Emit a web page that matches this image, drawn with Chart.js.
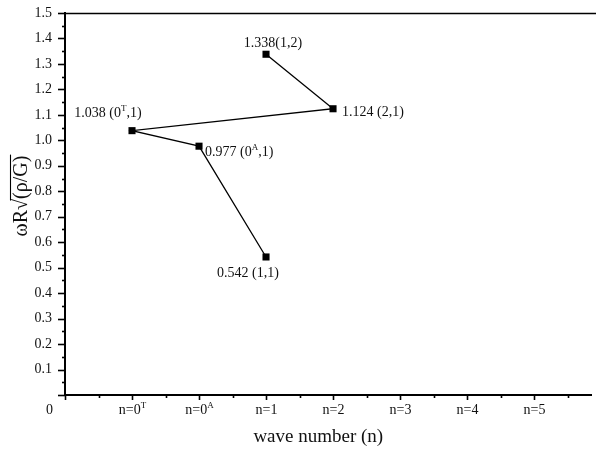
<!DOCTYPE html>
<html>
<head>
<meta charset="utf-8">
<script src="https://cdn.jsdelivr.net/npm/chart.js@4/dist/chart.umd.min.js"></script>
<style>
  html, body { margin: 0; padding: 0; background: #fff; }
</style>
</head>
<body>
<canvas id="chart" width="596" height="452"></canvas>
<script>
// wave number categories along x (index = position on the axis), '^' marks a superscript char
var waveTicks = ['0', 'n=0^T', 'n=0^A', 'n=1', 'n=2', 'n=3', 'n=4', 'n=5'];

// modes, in the order the line joins them
var modePos = [3, 4, 1, 2, 3];
var modeFreq = [1.338, 1.124, 1.038, 0.977, 0.542];
var modeLabels = ['1.338(1,2)', '1.124 (2,1)', '1.038 (0^T,1)', '0.977 (0^A,1)', '0.542 (1,1)'];

var yTicks = [0, 0.1, 0.2, 0.3, 0.4, 0.5, 0.6, 0.7, 0.8, 0.9, 1.0, 1.1, 1.2, 1.3, 1.4, 1.5];

var serif = '"Liberation Serif", "Times New Roman", serif';
var ink = '#111';

// where each point label sits relative to its marker
var labelPlace = [
  { dx: 7, dy: -11, align: 'center' },
  { dx: 9, dy: 4, align: 'left' },
  { dx: -24, dy: -17, align: 'center' },
  { dx: 6, dy: 6, align: 'left' },
  { dx: -18, dy: 16, align: 'center' }
];

function parseRich(text) {
  var parts = [], buf = '';
  for (var i = 0; i < text.length; i++) {
    if (text[i] === '^' && i + 1 < text.length) {
      if (buf) parts.push({ t: buf, sup: false });
      parts.push({ t: text[i + 1], sup: true });
      buf = '';
      i++;
    } else {
      buf += text[i];
    }
  }
  if (buf) parts.push({ t: buf, sup: false });
  return parts;
}

function drawRich(ctx, text, x, y, align, size) {
  var parts = parseRich(text);
  var supSize = Math.round(size * 0.62);
  var w = 0;
  parts.forEach(function(p) {
    ctx.font = (p.sup ? supSize : size) + 'px ' + serif;
    p.w = ctx.measureText(p.t).width;
    w += p.w;
  });
  var cx = align === 'left' ? x : (align === 'right' ? x - w : x - w / 2);
  ctx.textAlign = 'left';
  ctx.textBaseline = 'middle';
  parts.forEach(function(p) {
    ctx.font = (p.sup ? supSize : size) + 'px ' + serif;
    ctx.fillText(p.t, cx, p.sup ? y - size * 0.33 : y);
    cx += p.w;
  });
}

var decor = {
  id: 'decor',
  afterDraw: function(chart) {
    var ctx = chart.ctx;
    var area = chart.chartArea;
    var xs = chart.scales.x, ys = chart.scales.y;
    ctx.save();
    ctx.strokeStyle = '#000';
    ctx.fillStyle = ink;

    // top frame line
    ctx.lineWidth = 1.5;
    ctx.beginPath();
    ctx.moveTo(area.left, area.top + 0.5);
    ctx.lineTo(chart.width, area.top + 0.5);
    ctx.stroke();

    // y ticks (outside), majors every 0.1, minors between
    ctx.lineWidth = 1.6;
    yTicks.forEach(function(v, i) {
      var py = Math.round(ys.getPixelForValue(v)) + 0.5;
      ctx.beginPath();
      ctx.moveTo(area.left - 7, py);
      ctx.lineTo(area.left, py);
      ctx.stroke();
      if (i < yTicks.length - 1) {
        var pm = Math.round(ys.getPixelForValue((v + yTicks[i + 1]) / 2)) + 0.5;
        ctx.beginPath();
        ctx.moveTo(area.left - 3, pm);
        ctx.lineTo(area.left, pm);
        ctx.stroke();
      }
    });

    // x ticks (outside) and labels
    waveTicks.forEach(function(lbl, i) {
      var px = Math.round(xs.getPixelForValue(i)) + 0.5;
      ctx.beginPath();
      ctx.moveTo(px, area.bottom);
      ctx.lineTo(px, area.bottom + 5);
      ctx.stroke();
      var pm = Math.round(xs.getPixelForValue(i + 0.5)) + 0.5;
      ctx.beginPath();
      ctx.moveTo(pm, area.bottom);
      ctx.lineTo(pm, area.bottom + 3);
      ctx.stroke();
      if (i === 0) {
        drawRich(ctx, lbl, px - 16, area.bottom + 15, 'center', 14);
      } else {
        drawRich(ctx, lbl, px, area.bottom + 15, 'center', 14);
      }
    });

    // point labels
    modeLabels.forEach(function(lbl, i) {
      var px = xs.getPixelForValue(modePos[i]);
      var py = ys.getPixelForValue(modeFreq[i]);
      var pl = labelPlace[i];
      drawRich(ctx, lbl, px + pl.dx, py + pl.dy, pl.align, 14);
    });

    // x title
    ctx.font = '19px ' + serif;
    ctx.textAlign = 'center';
    ctx.textBaseline = 'middle';
    ctx.fillText('wave number (n)', xs.getPixelForValue(3.78), area.bottom + 42);

    // y title: ωR√(ρ/G) with the root bar over (ρ/G)
    ctx.translate(27, (area.top + area.bottom) / 2 - 8);
    ctx.rotate(-Math.PI / 2);
    ctx.font = '20px ' + serif;
    ctx.textBaseline = 'alphabetic';
    ctx.textAlign = 'left';
    var head = 'ωR', root = '√', under = '(ρ/G)';
    var wHead = ctx.measureText(head).width;
    var wRoot = ctx.measureText(root).width;
    var wUnder = ctx.measureText(under).width;
    var total = wHead + wRoot + wUnder;
    var sx = -total / 2;
    ctx.fillText(head + root + under, sx, 0);
    ctx.lineWidth = 1.1;
    ctx.beginPath();
    ctx.moveTo(sx + wHead + wRoot * 0.85, -16.5);
    ctx.lineTo(sx + total + 1, -16.5);
    ctx.stroke();
    ctx.restore();
  }
};

var points = modePos.map(function(x, i) { return { x: x, y: modeFreq[i] }; });

new Chart(document.getElementById('chart').getContext('2d'), {
  type: 'scatter',
  data: {
    datasets: [{
      data: points,
      showLine: true,
      borderColor: '#000',
      borderWidth: 1.3,
      backgroundColor: '#000',
      pointStyle: 'rect',
      pointRadius: 5,
      pointBorderWidth: 0
    }]
  },
  options: {
    responsive: false,
    animation: false,
    layout: { padding: { left: 0, right: 5, top: 13, bottom: 0 } },
    plugins: { legend: { display: false }, tooltip: { enabled: false } },
    scales: {
      x: {
        type: 'linear',
        min: 0,
        max: 7.85,
        grid: { display: false, drawTicks: false },
        border: { display: true, color: '#000', width: 2 },
        ticks: { display: false },
        afterFit: function(s) { s.height = 57; s.paddingLeft = 0; s.paddingRight = 0; }
      },
      y: {
        min: 0,
        max: 1.5,
        afterBuildTicks: function(s) { s.ticks = yTicks.map(function(v) { return { value: v }; }); },
        ticks: {
          padding: 13,
          color: ink,
          font: { family: serif, size: 14 },
          callback: function(v) { return v < 0.01 ? '' : v.toFixed(1); }
        },
        grid: { display: false, drawTicks: false },
        border: { display: true, color: '#000', width: 2 },
        afterFit: function(s) { s.width = 65; s.paddingTop = 0; s.paddingBottom = 0; }
      }
    }
  },
  plugins: [decor]
});
</script>
</body>
</html>
